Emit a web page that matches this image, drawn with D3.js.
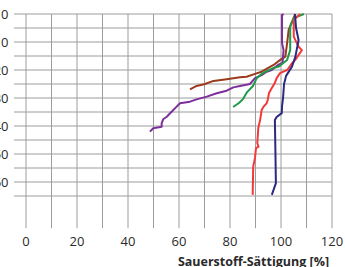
<!DOCTYPE html>
<html>
<head>
<meta charset="utf-8">
<script src="https://cdn.jsdelivr.net/npm/d3@7"></script>
<style>
  body { margin: 0; background: #fff; }
  text { font-family: "Open Sans", "Noto Sans", sans-serif; }
</style>
</head>
<body>
<svg width="345" height="267"></svg>
<script>
// depth ticks (y) and saturation ticks (x)
var depthTicks = [0, 10, 20, 30, 40, 50, 60];
var depthGrid = [0, 5, 10, 15, 20, 25, 30, 35, 40, 45, 50, 55, 60, 65];
var satTicks = [0, 20, 40, 60, 80, 100, 120];
var satGrid = [0, 10, 20, 30, 40, 50, 60, 70, 80, 90, 100, 110, 120];
var xTitle = "Sauerstoff-Sättigung [%]";

// profiles: [saturation %, depth]
var navy = [[105.5,0],[105.9,5],[106.9,9.3],[106.3,12.1],[105.6,15.4],[104.3,18.8],[102,22.1],[101.2,25],[100.8,30],[100.4,32.9],[100.3,35.4],[98.3,36.8],[97.6,37.9],[97.8,48.6],[98,60.4],[96.4,64.6]];
var red = [[107.5,0],[105,2.1],[105,8.1],[106.9,11.7],[108.2,12.9],[106.9,14.6],[105.6,16.4],[104.3,17.6],[102.4,20],[99.6,21.1],[98.3,22.9],[97.6,24.6],[96.4,26.4],[95.3,28.2],[94.8,30.7],[94.4,31.8],[93.1,33.2],[92.4,34.3],[91.8,37.9],[91.1,40.7],[90.7,46.1],[91.2,47.4],[90.2,47.9],[89.8,51.4],[89.1,54.5],[88.9,64.6]];
var green = [[109,0],[105,1.5],[103.6,4.5],[103.6,12.9],[102.4,16.4],[99.1,18.8],[96.9,19.3],[94.4,20.4],[92.4,21.4],[90.5,22.9],[89,25.7],[86.7,27.9],[85.1,30.4],[83.5,31.8],[81.2,33.2]];
var brown = [[105.6,0],[103,5.7],[102.4,10.4],[101.7,15.2],[99.7,16.4],[97.1,18.2],[95.7,18.9],[92.4,20.6],[89.8,21.4],[86.5,22.4],[83.9,22.6],[78.7,23.3],[73.5,23.9],[70.2,25],[66.9,25.7],[64.3,26.9]];
var purple = [[101,0],[100.4,0.4],[100.4,10.4],[101,12.9],[100.6,17.5],[98.8,18.2],[96.4,20],[94.4,20.6],[92.4,21.8],[89.8,22.9],[87.8,25],[83.9,25.7],[81.3,26.2],[78.7,27.4],[74.8,28.3],[70.9,29.5],[66.9,30.5],[64.3,31.3],[60.4,31.9],[58.4,33.7],[57.1,34.9],[55.2,36.7],[53.8,37.6],[53.2,39],[53.2,40.3],[49.9,40.8],[48.6,42]];

var series = [
  { data: brown, color: "#9a3b1c" },
  { data: purple, color: "#7d2f9c" },
  { data: green, color: "#1f9a4a" },
  { data: red, color: "#f23a3a" },
  { data: navy, color: "#2c2a80" }
];

var svg = d3.select("svg");

var x = d3.scaleLinear().domain([0, 120]).range([26, 332]);
var y = d3.scaleLinear().domain([0, 65]).range([14, 196]);
var gridBottom = y(76.5);

// grid
svg.append("g").selectAll("line")
  .data(depthGrid)
  .enter().append("line")
    .attr("x1", 14).attr("x2", x(120))
    .attr("y1", function(d) { return y(d); })
    .attr("y2", function(d) { return y(d); })
    .attr("stroke", "#9c9c9c").attr("stroke-width", 1);

svg.append("g").selectAll("line")
  .data(satGrid)
  .enter().append("line")
    .attr("x1", function(d) { return x(d); })
    .attr("x2", function(d) { return x(d); })
    .attr("y1", y(0)).attr("y2", gridBottom)
    .attr("stroke", "#9c9c9c").attr("stroke-width", 1);

// labels (the left ones are cut by the edge, as in the source)
svg.append("g").selectAll("text")
  .data(depthTicks)
  .enter().append("text")
    .attr("x", 8.5)
    .attr("y", function(d) { return y(d); })
    .attr("dy", "0.36em")
    .attr("text-anchor", "end")
    .attr("font-size", 13)
    .attr("fill", "#2a2a2a")
    .text(function(d) { return d; });

svg.append("g").selectAll("text")
  .data(satTicks)
  .enter().append("text")
    .attr("x", function(d) { return x(d); })
    .attr("y", 245.5)
    .attr("text-anchor", "middle")
    .attr("font-size", 13)
    .attr("fill", "#2a2a2a")
    .text(function(d) { return d; });

svg.append("text")
  .attr("x", 253.5)
  .attr("y", 266)
  .attr("text-anchor", "middle")
  .attr("font-size", 12.5)
  .attr("font-weight", "bold")
  .attr("fill", "#2a2a2a")
  .text(xTitle);

// profiles
var line = d3.line()
  .x(function(d) { return x(d[0]); })
  .y(function(d) { return y(d[1]); });

svg.append("g").selectAll("path")
  .data(series)
  .enter().append("path")
    .attr("d", function(s) { return line(s.data); })
    .attr("fill", "none")
    .attr("stroke", function(s) { return s.color; })
    .attr("stroke-width", 2)
    .attr("stroke-linejoin", "round");
</script>
</body>
</html>
